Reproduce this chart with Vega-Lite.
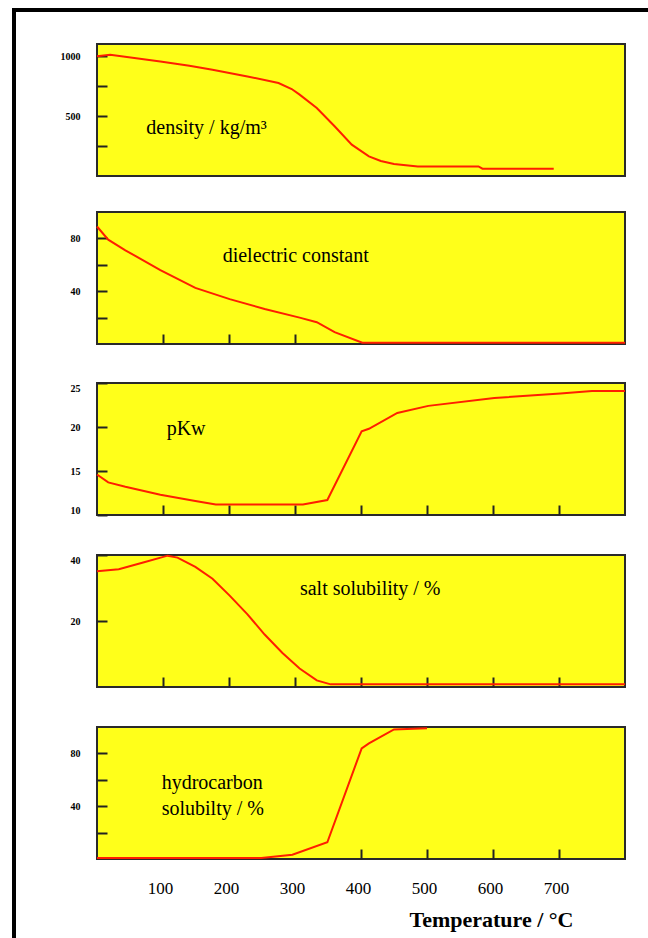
{
  "$schema": "https://vega.github.io/schema/vega-lite/v6.json",
  "background": "white",
  "padding": {"left": 12, "top": 8, "right": 0, "bottom": 0},
  "spacing": 0,
  "datasets": {
    "density": [
      {"T": 0, "v": 997}, {"T": 20, "v": 1010}, {"T": 96, "v": 955}, {"T": 140, "v": 919},
      {"T": 175, "v": 886}, {"T": 228, "v": 830}, {"T": 275, "v": 775}, {"T": 295, "v": 725},
      {"T": 307, "v": 678}, {"T": 333, "v": 567}, {"T": 360, "v": 414}, {"T": 386, "v": 261},
      {"T": 412, "v": 164}, {"T": 430, "v": 125}, {"T": 450, "v": 100}, {"T": 486, "v": 80},
      {"T": 578, "v": 80}, {"T": 584, "v": 61}, {"T": 692, "v": 61}
    ],
    "dielectric": [
      {"T": 0, "v": 89}, {"T": 17, "v": 79}, {"T": 43, "v": 71}, {"T": 96, "v": 56},
      {"T": 149, "v": 42.5}, {"T": 201, "v": 34}, {"T": 254, "v": 26.5}, {"T": 307, "v": 20},
      {"T": 333, "v": 16.5}, {"T": 360, "v": 9}, {"T": 402, "v": 1}, {"T": 800, "v": 1}
    ],
    "pkw": [
      {"T": 0, "v": 14.6}, {"T": 17, "v": 13.7}, {"T": 43, "v": 13.2}, {"T": 96, "v": 12.3},
      {"T": 149, "v": 11.6}, {"T": 180, "v": 11.2}, {"T": 312, "v": 11.2}, {"T": 349, "v": 11.7},
      {"T": 401, "v": 19.5}, {"T": 412, "v": 19.8}, {"T": 455, "v": 21.6}, {"T": 502, "v": 22.4},
      {"T": 602, "v": 23.3}, {"T": 702, "v": 23.8}, {"T": 750, "v": 24.1}, {"T": 800, "v": 24.1}
    ],
    "salt": [
      {"T": 0, "v": 35.1}, {"T": 33, "v": 35.7}, {"T": 70, "v": 37.7}, {"T": 107, "v": 39.8},
      {"T": 122, "v": 39.2}, {"T": 149, "v": 36.4}, {"T": 175, "v": 32.8}, {"T": 201, "v": 27.7},
      {"T": 228, "v": 22}, {"T": 254, "v": 15.9}, {"T": 281, "v": 10.3}, {"T": 307, "v": 5.6},
      {"T": 333, "v": 2}, {"T": 354, "v": 0.8}, {"T": 800, "v": 0.8}
    ],
    "hydro": [
      {"T": 0, "v": 0.8}, {"T": 249, "v": 0.8}, {"T": 296, "v": 3.3}, {"T": 349, "v": 12.7},
      {"T": 401, "v": 83.8}, {"T": 412, "v": 87.6}, {"T": 450, "v": 98.2}, {"T": 500, "v": 99}
    ]
  },
  "vconcat": [
    {
      "width": 636, "height": 4,
      "view": {"fill": "black", "stroke": null},
      "data": {"values": []},
      "mark": {"type": "point", "opacity": 0},
      "encoding": {}
    },
    {
      "spacing": 35,
      "hconcat": [
        {
          "width": 4, "height": 926,
          "view": {"fill": "black", "stroke": null},
          "data": {"values": []},
          "mark": {"type": "point", "opacity": 0},
          "encoding": {}
        },
        {
          "spacing": 0,
          "vconcat": [
            {
              "width": 528, "height": 31,
              "view": {"fill": null, "stroke": null},
              "data": {"values": []},
              "mark": {"type": "point", "opacity": 0},
              "encoding": {}
            },
            {
              "spacing": 33,
              "vconcat": [
                {
                  "width": 528, "height": 132,
                  "layer": [
                    {
                      "data": {"name": "density"},
                      "mark": {"type": "line", "color": "#ff1e00", "strokeWidth": 2},
                      "encoding": {
                        "x": {"field": "T", "type": "quantitative", "scale": {"domain": [0, 800], "nice": false},
                          "axis": {"title": null, "values": [100, 200, 300, 400, 500, 600, 700], "labels": false, "tickColor": "rgba(0,0,0,0)"}},
                        "y": {"field": "v", "type": "quantitative", "scale": {"domain": [0, 1100], "nice": false},
                          "axis": {"title": null, "values": [250, 500, 750, 1000], "format": "d", "labelExpr": "datum.value % 500 === 0 ? datum.label : ''"}}
                      }
                    },
                    {
                      "data": {"values": [{}]},
                      "mark": {"type": "text", "text": "density / kg/m³", "font": "Liberation Serif", "fontSize": 20, "color": "black", "align": "center", "baseline": "middle"},
                      "encoding": {
                        "x": {"datum": 166, "type": "quantitative", "scale": {"domain": [0, 800], "nice": false},
                          "axis": {"title": null, "values": [100, 200, 300, 400, 500, 600, 700], "labels": false, "tickColor": "rgba(0,0,0,0)"}},
                        "y": {"datum": 403, "type": "quantitative", "scale": {"domain": [0, 1100], "nice": false},
                          "axis": {"title": null, "values": [250, 500, 750, 1000], "format": "d", "labelExpr": "datum.value % 500 === 0 ? datum.label : ''"}}
                      }
                    }
                  ]
                },
                {
                  "width": 528, "height": 132,
                  "layer": [
                    {
                      "data": {"name": "dielectric"},
                      "mark": {"type": "line", "color": "#ff1e00", "strokeWidth": 2},
                      "encoding": {
                        "x": {"field": "T", "type": "quantitative", "scale": {"domain": [0, 800], "nice": false},
                          "axis": {"title": null, "values": [100, 200, 300], "labels": false}},
                        "y": {"field": "v", "type": "quantitative", "scale": {"domain": [0, 100], "nice": false},
                          "axis": {"title": null, "values": [20, 40, 60, 80], "labelExpr": "datum.value % 40 === 0 ? datum.label : ''"}}
                      }
                    },
                    {
                      "data": {"values": [{}]},
                      "mark": {"type": "text", "text": "dielectric constant", "font": "Liberation Serif", "fontSize": 20, "color": "black", "align": "center", "baseline": "middle"},
                      "encoding": {
                        "x": {"datum": 301, "type": "quantitative", "scale": {"domain": [0, 800], "nice": false},
                          "axis": {"title": null, "values": [100, 200, 300], "labels": false}},
                        "y": {"datum": 67, "type": "quantitative", "scale": {"domain": [0, 100], "nice": false},
                          "axis": {"title": null, "values": [20, 40, 60, 80], "labelExpr": "datum.value % 40 === 0 ? datum.label : ''"}}
                      }
                    }
                  ]
                },
                {
                  "width": 528, "height": 132,
                  "layer": [
                    {
                      "data": {"name": "pkw"},
                      "mark": {"type": "line", "color": "#ff1e00", "strokeWidth": 2},
                      "encoding": {
                        "x": {"field": "T", "type": "quantitative", "scale": {"domain": [0, 800], "nice": false},
                          "axis": {"title": null, "values": [100, 200, 300, 400, 500, 600, 700], "labels": false}},
                        "y": {"field": "v", "type": "quantitative", "scale": {"domain": [10, 25], "nice": false, "zero": false},
                          "axis": {"title": null, "values": [10, 15, 20, 25]}}
                      }
                    },
                    {
                      "data": {"values": [{}]},
                      "mark": {"type": "text", "text": "pKw", "font": "Liberation Serif", "fontSize": 20, "color": "black", "align": "center", "baseline": "middle"},
                      "encoding": {
                        "x": {"datum": 135, "type": "quantitative", "scale": {"domain": [0, 800], "nice": false},
                          "axis": {"title": null, "values": [100, 200, 300, 400, 500, 600, 700], "labels": false}},
                        "y": {"datum": 19.8, "type": "quantitative", "scale": {"domain": [10, 25], "nice": false, "zero": false},
                          "axis": {"title": null, "values": [10, 15, 20, 25]}}
                      }
                    }
                  ]
                },
                {
                  "width": 528, "height": 132,
                  "layer": [
                    {
                      "data": {"name": "salt"},
                      "mark": {"type": "line", "color": "#ff1e00", "strokeWidth": 2},
                      "encoding": {
                        "x": {"field": "T", "type": "quantitative", "scale": {"domain": [0, 800], "nice": false},
                          "axis": {"title": null, "values": [100, 200, 300, 400, 500, 600, 700], "labels": false}},
                        "y": {"field": "v", "type": "quantitative", "scale": {"domain": [0, 40], "nice": false},
                          "axis": {"title": null, "values": [20, 40]}}
                      }
                    },
                    {
                      "data": {"values": [{}]},
                      "mark": {"type": "text", "text": "salt solubility / %", "font": "Liberation Serif", "fontSize": 20, "color": "black", "align": "center", "baseline": "middle"},
                      "encoding": {
                        "x": {"datum": 414, "type": "quantitative", "scale": {"domain": [0, 800], "nice": false},
                          "axis": {"title": null, "values": [100, 200, 300, 400, 500, 600, 700], "labels": false}},
                        "y": {"datum": 29.7, "type": "quantitative", "scale": {"domain": [0, 40], "nice": false},
                          "axis": {"title": null, "values": [20, 40]}}
                      }
                    }
                  ]
                },
                {
                  "width": 528, "height": 132,
                  "layer": [
                    {
                      "data": {"name": "hydro"},
                      "mark": {"type": "line", "color": "#ff1e00", "strokeWidth": 2},
                      "encoding": {
                        "x": {"field": "T", "type": "quantitative", "scale": {"domain": [0, 800], "nice": false},
                          "axis": {"title": "Temperature / °C", "values": [100, 200, 300, 400, 500, 600, 700],
                            "tickOpacity": {"condition": {"test": "datum.value < 400", "value": 0}, "value": 1},
                            "titleX": 394, "titleY": 60, "titleAlign": "center", "titleBaseline": "middle",
                            "titleFont": "Liberation Serif", "titleFontSize": 22, "titleFontWeight": "bold", "titleColor": "black"}},
                        "y": {"field": "v", "type": "quantitative", "scale": {"domain": [0, 100], "nice": false},
                          "axis": {"title": null, "values": [20, 40, 60, 80], "labelExpr": "datum.value % 40 === 0 ? datum.label : ''"}}
                      }
                    },
                    {
                      "data": {"values": [{}]},
                      "mark": {"type": "text", "text": ["hydrocarbon", "solubilty / %"], "lineHeight": 26, "font": "Liberation Serif", "fontSize": 20, "color": "black", "align": "left", "baseline": "middle"},
                      "encoding": {
                        "x": {"datum": 98, "type": "quantitative", "scale": {"domain": [0, 800], "nice": false},
                          "axis": {"title": "Temperature / °C", "values": [100, 200, 300, 400, 500, 600, 700],
                            "tickOpacity": {"condition": {"test": "datum.value < 400", "value": 0}, "value": 1},
                            "titleX": 394, "titleY": 60, "titleAlign": "center", "titleBaseline": "middle",
                            "titleFont": "Liberation Serif", "titleFontSize": 22, "titleFontWeight": "bold", "titleColor": "black"}},
                        "y": {"datum": 57.6, "type": "quantitative", "scale": {"domain": [0, 100], "nice": false},
                          "axis": {"title": null, "values": [20, 40, 60, 80], "labelExpr": "datum.value % 40 === 0 ? datum.label : ''"}}
                      }
                    }
                  ]
                }
              ]
            }
          ]
        }
      ]
    }
  ],
  "config": {
    "view": {"fill": "#ffff1a", "stroke": "#2a2a2a", "strokeWidth": 2},
    "axis": {"domain": false, "grid": false, "tickSize": -10, "tickWidth": 2, "tickColor": "#222222"},
    "axisY": {"labelFont": "Liberation Serif", "labelFontSize": 10, "labelFontWeight": "bold", "labelColor": "black",
      "labelPadding": 27, "labelFlush": true, "minExtent": 45, "maxExtent": 45},
    "axisX": {"labelFont": "Liberation Serif", "labelFontSize": 17, "labelColor": "black", "labelPadding": 31,
      "labelOffset": -3, "labelFlush": false}
  }
}
